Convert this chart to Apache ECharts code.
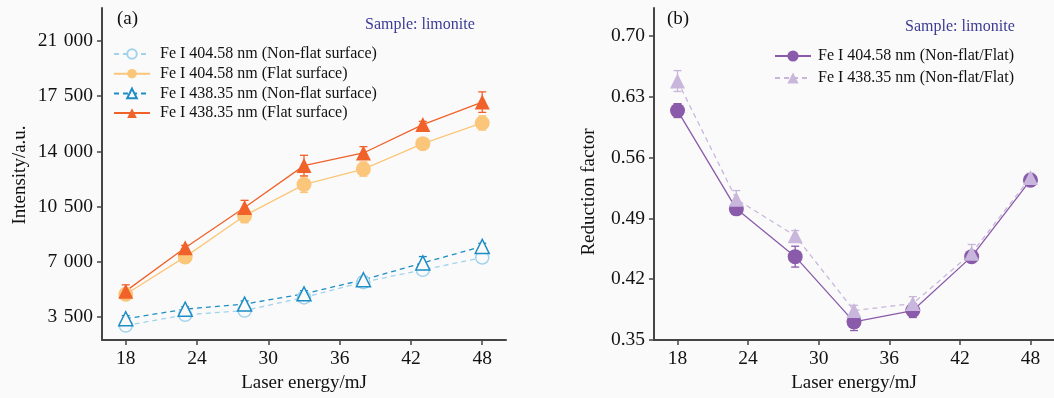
<!DOCTYPE html>
<html>
<head>
<meta charset="utf-8">
<script src="https://cdn.jsdelivr.net/npm/echarts@6/dist/echarts.min.js"></script>
<style>
  html, body { margin: 0; padding: 0; background: #fafafa; }
  #chart { width: 1054px; height: 398px; }
</style>
</head>
<body>
<div id="chart"></div>
<script>
// laser energy (mJ)
const energy = [18, 23, 28, 33, 38, 43, 48];
const xTicks = [18, 24, 30, 36, 42, 48];

// panel (a): intensity, a.u.
const fe404NonFlat = [2970, 3650, 3920, 4750, 5720, 6500, 7280];
const fe404NonFlatErr = [200, 150, 300, 200, 200, 300, 200];
const fe404Flat = [4950, 7320, 9930, 11900, 12880, 14490, 15800];
const fe404FlatErr = [300, 150, 450, 500, 450, 150, 450];
const fe438NonFlat = [3400, 4010, 4330, 4980, 5870, 6940, 7980];
const fe438NonFlatErr = [200, 150, 200, 200, 200, 400, 200];
const fe438Flat = [5150, 7900, 10450, 13100, 13900, 15700, 17120];
const fe438FlatErr = [400, 150, 450, 650, 400, 200, 650];
const intensityTicks = [3500, 7000, 10500, 14000, 17500, 21000];

// panel (b): reduction factor
const rf404 = [0.614, 0.501, 0.446, 0.371, 0.384, 0.446, 0.534];
const rf404Err = [0.008, 0.005, 0.012, 0.01, 0.008, 0.004, 0.004];
const rf438 = [0.648, 0.512, 0.470, 0.384, 0.392, 0.450, 0.537];
const rf438Err = [0.012, 0.01, 0.006, 0.006, 0.008, 0.01, 0.005];
const rfTicks = [0.35, 0.42, 0.49, 0.56, 0.63, 0.70];

const FONT = "Liberation Serif";
const AXIS = "#444";
const TEXT = "#111";
const BG = "#fafafa";

const pairs = (ys) => energy.map((x, i) => [x, ys[i]]);
const errData = (ys, es) => energy.map((x, i) => [x, ys[i], es[i]]);

function errorBars(name, idx, ys, es, color) {
  return {
    type: "custom",
    name: name + " err",
    xAxisIndex: idx,
    yAxisIndex: idx,
    z: 3,
    silent: true,
    data: errData(ys, es),
    renderItem: (params, api) => {
      const x = api.value(0);
      const top = api.coord([x, api.value(1) + api.value(2)]);
      const bot = api.coord([x, api.value(1) - api.value(2)]);
      const style = { stroke: color, lineWidth: 1.3 };
      const w = 4;
      return {
        type: "group",
        children: [
          { type: "line", shape: { x1: top[0], y1: top[1], x2: bot[0], y2: bot[1] }, style },
          { type: "line", shape: { x1: top[0] - w, y1: top[1], x2: top[0] + w, y2: top[1] }, style },
          { type: "line", shape: { x1: bot[0] - w, y1: bot[1], x2: bot[0] + w, y2: bot[1] }, style },
        ],
      };
    },
  };
}

function lineSeries(name, idx, ys, color, symbol, dashed, hollow, size) {
  return {
    type: "line",
    name,
    xAxisIndex: idx,
    yAxisIndex: idx,
    z: 4,
    data: pairs(ys),
    symbol,
    symbolSize: size,
    showAllSymbol: true,
    lineStyle: { color, width: 1.3, type: dashed ? [5, 4] : "solid" },
    itemStyle: hollow
      ? { color: BG, borderColor: color, borderWidth: 1.5 }
      : { color, borderWidth: 0 },
  };
}

const axisLabelBase = { color: TEXT, fontFamily: FONT, fontSize: 19.5, margin: 9 };
const axisNameBase = { color: TEXT, fontFamily: FONT, fontSize: 19 };

function xAxis(gridIndex) {
  return {
    type: "value",
    gridIndex,
    min: 16,
    max: 50,
    name: "Laser energy/mJ",
    nameLocation: "middle",
    nameGap: 32,
    nameTextStyle: axisNameBase,
    splitLine: { show: false },
    axisLine: { onZero: false, lineStyle: { color: AXIS, width: 2 } },
    axisTick: { customValues: xTicks, length: 5, lineStyle: { color: AXIS, width: 1.5 } },
    axisLabel: { ...axisLabelBase, customValues: xTicks },
  };
}

const legendText = { color: TEXT, fontFamily: FONT, fontSize: 16, lineHeight: 16 };

const chart = echarts.init(document.getElementById("chart"));
chart.setOption({
  backgroundColor: BG,
  animation: false,
  textStyle: { fontFamily: FONT },
  grid: [
    { left: 102, right: 548, top: 8, bottom: 57 },
    { left: 654, right: -3, top: 8, bottom: 57 },
  ],
  xAxis: [xAxis(0), xAxis(1)],
  yAxis: [
    {
      type: "value",
      gridIndex: 0,
      min: 2050,
      max: 23080,
      splitLine: { show: false },
      axisLine: { show: true, lineStyle: { color: AXIS, width: 2 } },
      axisTick: { show: true, customValues: intensityTicks, length: 5, lineStyle: { color: AXIS, width: 1.5 } },
      axisLabel: {
        ...axisLabelBase,
        customValues: intensityTicks,
        formatter: (v) => {
          const s = String(Math.round(v));
          return s.length > 3 ? s.slice(0, -3) + "\u2004" + s.slice(-3) : s;
        },
      },
    },
    {
      type: "value",
      gridIndex: 1,
      min: 0.35,
      max: 0.732,
      splitLine: { show: false },
      axisLine: { show: true, lineStyle: { color: AXIS, width: 2 } },
      axisTick: { show: true, customValues: rfTicks, length: 5, lineStyle: { color: AXIS, width: 1.5 } },
      axisLabel: { ...axisLabelBase, customValues: rfTicks, formatter: (v) => v.toFixed(2) },
    },
  ],
  legend: [
    {
      orient: "vertical",
      left: 108,
      top: 41,
      itemWidth: 36,
      itemHeight: 12,
      itemGap: 3.7,
      data: [
        "Fe I 404.58 nm (Non-flat surface)",
        "Fe I 404.58 nm (Flat surface)",
        "Fe I 438.35 nm (Non-flat surface)",
        "Fe I 438.35 nm (Flat surface)",
      ],
      textStyle: { ...legendText, padding: [0, 0, 0, 5] },
    },
    {
      orient: "vertical",
      left: 769,
      top: 43,
      itemWidth: 36,
      itemHeight: 14,
      itemGap: 6,
      data: ["Fe I 404.58 nm (Non-flat/Flat)", "Fe I 438.35 nm (Non-flat/Flat)"],
      textStyle: { ...legendText, padding: [0, 0, 0, 2] },
    },
  ],
  graphic: [
    { type: "text", left: 117, top: 10, style: { text: "(a)", font: `19px "${FONT}"`, fill: TEXT } },
    { type: "text", left: 667, top: 10, style: { text: "(b)", font: `19px "${FONT}"`, fill: TEXT } },
    { type: "text", left: 365, top: 17, style: { text: "Sample: limonite", font: `16px "${FONT}"`, fill: "#3b3c94" } },
    { type: "text", left: 905, top: 19, style: { text: "Sample: limonite", font: `16px "${FONT}"`, fill: "#3b3c94" } },
    {
      type: "text", x: 20, y: 175, rotation: Math.PI / 2,
      style: { text: "Intensity/a.u.", font: `19px "${FONT}"`, fill: TEXT, align: "center", verticalAlign: "middle" },
    },
    {
      type: "text", x: 589, y: 192, rotation: Math.PI / 2,
      style: { text: "Reduction factor", font: `19px "${FONT}"`, fill: TEXT, align: "center", verticalAlign: "middle" },
    },
  ],
  series: [
    errorBars("404nf", 0, fe404NonFlat, fe404NonFlatErr, "#a2d3ec"),
    errorBars("404f", 0, fe404Flat, fe404FlatErr, "#fbc67a"),
    errorBars("438nf", 0, fe438NonFlat, fe438NonFlatErr, "#1d8dc6"),
    errorBars("438f", 0, fe438Flat, fe438FlatErr, "#f0622a"),
    lineSeries("Fe I 404.58 nm (Non-flat surface)", 0, fe404NonFlat, "#a2d3ec", "circle", true, true, 13),
    lineSeries("Fe I 404.58 nm (Flat surface)", 0, fe404Flat, "#fbc67a", "circle", false, false, 15),
    lineSeries("Fe I 438.35 nm (Non-flat surface)", 0, fe438NonFlat, "#1d8dc6", "triangle", true, true, 14),
    lineSeries("Fe I 438.35 nm (Flat surface)", 0, fe438Flat, "#f0622a", "triangle", false, false, 15),
    errorBars("rf404", 1, rf404, rf404Err, "#8a5baa"),
    errorBars("rf438", 1, rf438, rf438Err, "#c9b6dc"),
    lineSeries("Fe I 404.58 nm (Non-flat/Flat)", 1, rf404, "#8a5baa", "circle", false, false, 15),
    lineSeries("Fe I 438.35 nm (Non-flat/Flat)", 1, rf438, "#c9b6dc", "triangle", true, false, 15),
  ],
});
</script>
</body>
</html>
